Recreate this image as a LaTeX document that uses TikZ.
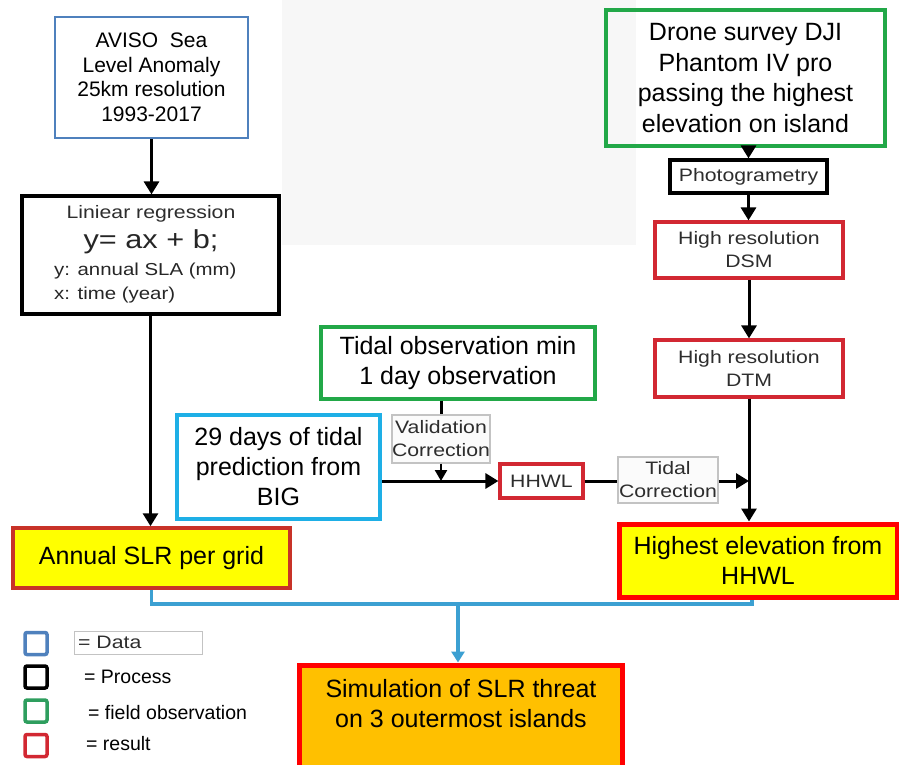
\documentclass[tikz,border=0pt]{standalone}
\usepackage{fontspec}
\setmainfont{Liberation Sans}
\newfontfamily\widefont[FakeStretch=1.18]{Liberation Sans}
\usetikzlibrary{arrows.meta}
\definecolor{bggray}{RGB}{247,247,247}
\definecolor{databl}{RGB}{79,129,189}
\definecolor{fieldgr}{RGB}{34,168,72}
\definecolor{legfield}{RGB}{46,158,94}
\definecolor{resred}{RGB}{210,40,50}
\definecolor{brightred}{RGB}{255,0,0}
\definecolor{annred}{RGB}{200,50,40}
\definecolor{cyanbl}{RGB}{30,175,230}
\definecolor{simorange}{RGB}{255,192,0}
\definecolor{yel}{RGB}{255,255,0}
\definecolor{bluecon}{RGB}{60,160,210}
\definecolor{textgray}{RGB}{45,45,45}
\definecolor{lgray}{RGB}{195,195,195}
\begin{document}
\begin{tikzpicture}[x=1pt,y=-1pt,
  box/.style={draw, line width=3.2pt, inner sep=0pt, align=center},
  bigtxt/.style={font=\fontsize{25}{30}\selectfont},
  smalltxt/.style={font=\widefont\fontsize{18}{23}\selectfont, text=textgray},
  lightbox/.style={draw=lgray, line width=1.2pt, fill=gray!3, inner sep=0pt, align=center},
  arr/.style={line width=3pt, -{Triangle[width=15pt,length=13pt]}},
  smallarr/.style={line width=2.4pt, -{Triangle[width=12pt,length=11pt]}},
  ln/.style={line width=3pt},
  bline/.style={line width=3.2pt, draw=bluecon},
  legsq/.style={draw, line width=3.5pt, rounded corners=2pt, minimum size=22pt, fill=white, inner sep=0pt},
  legtxt/.style={font=\fontsize{19.5}{22}\selectfont, anchor=west, inner sep=0pt}
]
\clip (0,0) rectangle (899,765);
\fill[bggray] (282,0) rectangle (636,245);

% left column
\node[box, draw=databl, line width=2.6pt, minimum width=193pt, minimum height=121pt,
      font=\fontsize{21}{24.5}\selectfont] (aviso) at (151.5,77.5)
      {AVISO\ \ Sea\\Level Anomaly\\25km resolution\\1993-2017};
\node[box, minimum width=257pt, minimum height=118pt] (lin) at (150.5,255) {};
\node[smalltxt, inner sep=0pt] (linA) at (151,214) {Liniear regression};
\node[font=\widefont\fontsize{26}{30}\selectfont, text=black!85, inner sep=0pt] (linB) at (151,242) {y= ax + b;};
\node[font=\widefont\fontsize{17.3}{22}\selectfont, text=black!85, inner sep=0pt, anchor=west] (linC) at (54,271) {y: annual SLA (mm)};
\node[font=\widefont\fontsize{17.3}{22}\selectfont, text=black!85, inner sep=0pt, anchor=west] (linD) at (54,295) {x: time (year)};
\node[box, bigtxt, fill=yel, draw=annred, line width=3.5pt, minimum width=277pt, minimum height=60pt] (annual) at (151.5,558) {Annual SLR per grid};

% right column
\node[box, bigtxt, draw=fieldgr, minimum width=279pt, minimum height=136pt,
      font=\fontsize{25}{30.5}\selectfont] (drone) at (745.5,78)
      {Drone survey DJI\\Phantom IV pro\\passing the highest\\elevation on island};
\node[box, smalltxt, minimum width=157pt, minimum height=33pt] (photo) at (748.5,176.5) {Photogrametry};
\node[box, smalltxt, draw=resred, minimum width=188pt, minimum height=56pt] (dsm) at (749,250) {High resolution\\DSM};
\node[box, smalltxt, draw=resred, minimum width=188pt, minimum height=57pt] (dtm) at (749,368.5) {High resolution\\DTM};
\node[box, bigtxt, fill=yel, draw=brightred, line width=5pt, minimum width=278pt, minimum height=73pt] (high) at (758,560.5) {Highest elevation from\\HHWL};

% middle
\node[box, bigtxt, draw=fieldgr, minimum width=274pt, minimum height=72pt] (tidalobs) at (458,363) {Tidal observation min\\1 day observation};
\node[box, bigtxt, draw=cyanbl, line width=4.5pt, minimum width=203pt, minimum height=104pt] (pred) at (278.5,467) {29 days of tidal\\prediction from\\BIG};
\node[lightbox, smalltxt, minimum width=98pt, minimum height=48pt] (valid) at (441,439) {Validation\\Correction};
\node[box, smalltxt, draw=resred, minimum width=83pt, minimum height=34pt] (hhwl) at (541.5,481) {HHWL};
\node[lightbox, smalltxt, minimum width=100pt, minimum height=46pt] (tcorr) at (668,480) {Tidal\\Correction};

% bottom
\node[box, fill=simorange, draw=brightred, line width=5pt, minimum width=323pt, minimum height=115pt] (sim) at (460.5,722.5) {};
\node[bigtxt, align=center, inner sep=0pt] (simtext) at (461,704) {Simulation of SLR threat\\on 3 outermost islands};

% connectors
\draw[arr] (aviso.south) -- (aviso.south |- lin.north);
\draw[arr] (lin.south) -- (lin.south |- annual.north);
\draw[arr] (photo.north |- drone.south) -- (photo.north);
\draw[arr] (photo.south) -- (photo.south |- dsm.north);
\draw[arr] (dsm.south) -- (dtm.north);
\draw[arr] (dtm.south) -- (dtm.south |- high.north);
\draw[ln] (valid.north |- tidalobs.south) -- (valid.north);
\draw[smallarr] (valid.south) -- (valid.south |- hhwl.west);
\draw[arr] (pred.east |- hhwl.west) -- (hhwl.west);
\draw[ln] (hhwl.east) -- (tcorr.west |- hhwl.east);
\draw[arr] (tcorr.east |- hhwl.east) -- (dtm.south |- hhwl.east);

\coordinate (join) at (458,604);
\draw[bline] (annual.south) |- (join) -| ([xshift=-6pt]high.south);
\draw[bline, -{Triangle[width=13pt,length=11pt]}] (join) -- (join |- sim.north);

% legend
\node[legsq, draw=databl] (ldata) at (36,643.5) {};
\node[legsq, draw=black] (lproc) at (36,677) {};
\node[legsq, draw=legfield] (lfield) at (36,711) {};
\node[legsq, draw=resred] (lres) at (36,745.5) {};
\node[draw=lgray, line width=1pt, minimum width=128pt, minimum height=23pt, inner sep=0pt] (ldatabox) at (138,642.5) {};
\node[font=\widefont\fontsize{18}{22}\selectfont, text=textgray, anchor=west, inner sep=0pt] (ldatatxt) at (78,642.5) {= Data};
\node[legtxt] (lproctxt) at (84,677) {= Process};
\node[legtxt] (lfieldtxt) at (88,713) {= field observation};
\node[legtxt] (lrestxt) at (86,744) {= result};
\end{tikzpicture}
\end{document}
